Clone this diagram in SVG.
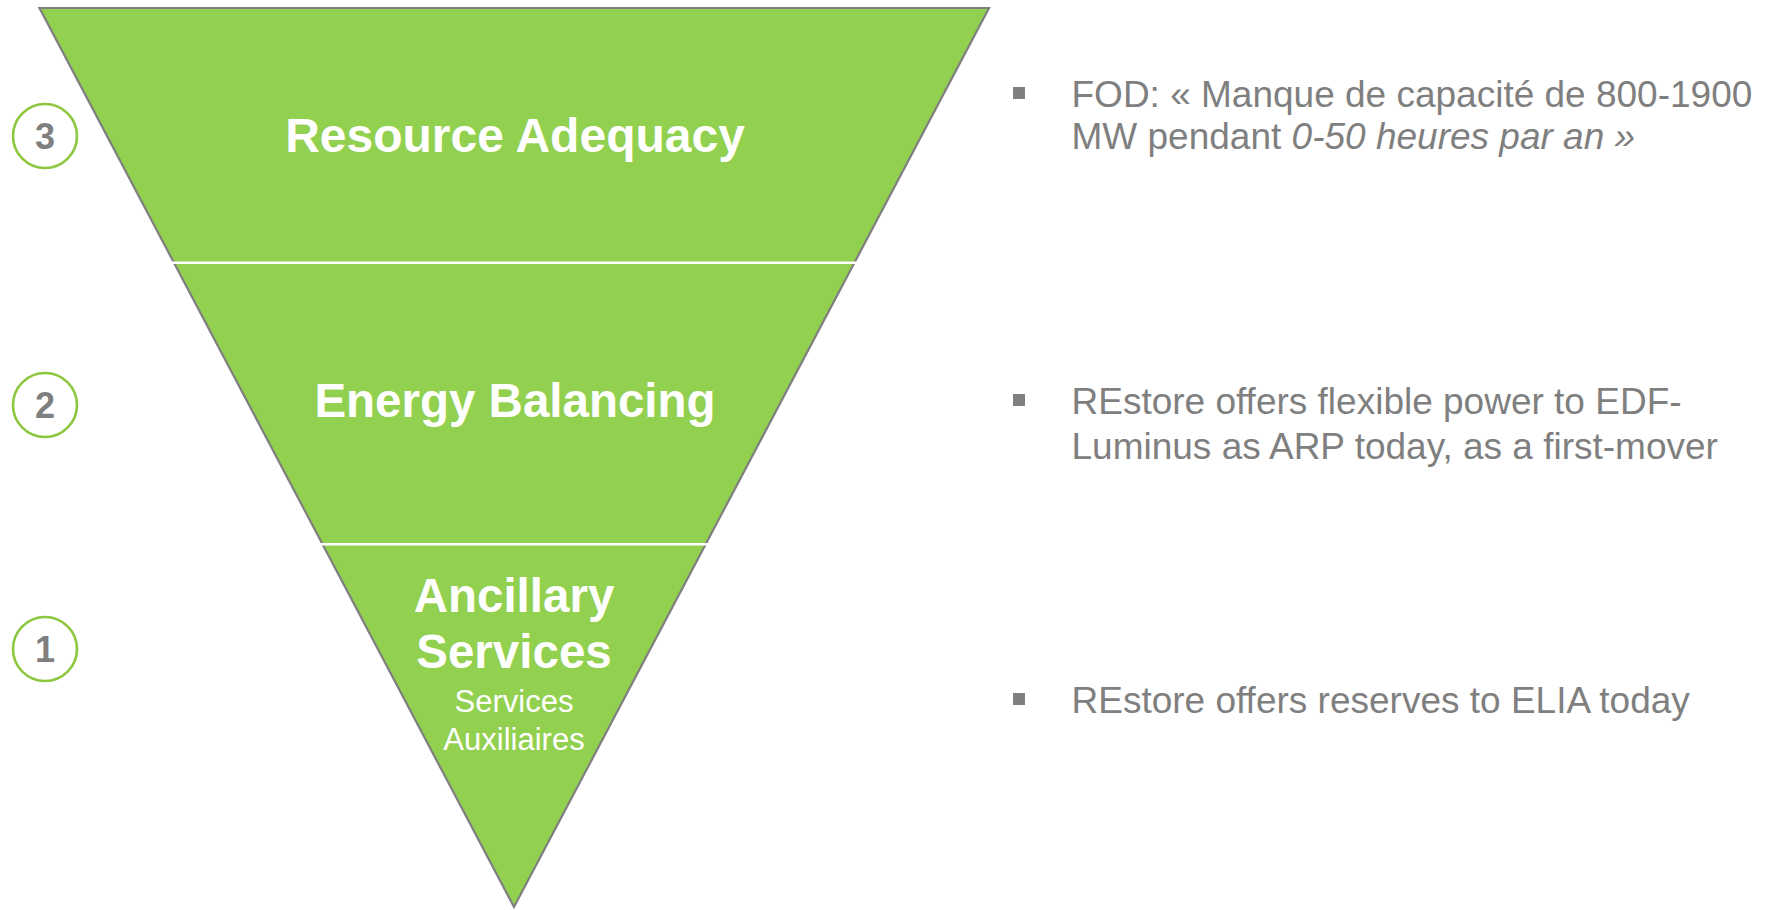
<svg xmlns="http://www.w3.org/2000/svg" width="1769" height="910" viewBox="0 0 1769 910">
<style>
.tri{fill:#92D050;stroke:#7F7F7F;stroke-width:2.2;stroke-linejoin:miter}
.div{stroke:#FFFFFF;stroke-width:2.6}
.big{font-family:"Liberation Sans",Arial,sans-serif;font-weight:bold;fill:#FFFFFF;text-anchor:middle}
.small{font-family:"Liberation Sans",Arial,sans-serif;fill:#FFFFFF;text-anchor:middle;font-size:31px}
.circ{fill:#FFFFFF;stroke:#8DC63F;stroke-width:2.6}
.num{font-family:"Liberation Sans",Arial,sans-serif;font-weight:bold;fill:#7F7F7F;text-anchor:middle;font-size:36px}
.desc{font-family:"Liberation Sans",Arial,sans-serif;fill:#7F7F7F;font-size:37px}
.bul{fill:#7F7F7F}
</style>
<rect width="1769" height="910" fill="#FFFFFF"/>
<g id="pyramid">
<polygon class="tri" points="39.5,8 989,8 514,907"/>
</g>
<g id="connectors">
<line class="div" x1="170" y1="262.7" x2="860" y2="262.7"/>
<line class="div" x1="320" y1="544.3" x2="708" y2="544.3"/>
</g>
<g id="tier3">
<text class="big" x="515" y="151.7" font-size="48">Resource Adequacy</text>
</g>
<g id="tier2">
<text class="big" x="515" y="416.7" font-size="47.5">Energy Balancing</text>
</g>
<g id="tier1">
<text class="big" x="514" y="612.3" font-size="47.5">Ancillary</text>
<text class="big" x="514" y="668.3" font-size="47.5">Services</text>
<text class="small" x="514" y="711.7">Services</text>
<text class="small" x="514" y="750">Auxiliaires</text>
</g>
<g id="badge3">
<circle class="circ" cx="45" cy="136" r="32"/>
<text class="num" x="45" y="149">3</text>
</g>
<g id="badge2">
<circle class="circ" cx="45" cy="405" r="32"/>
<text class="num" x="45" y="418">2</text>
</g>
<g id="badge1">
<circle class="circ" cx="45" cy="649" r="32"/>
<text class="num" x="45" y="662">1</text>
</g>
<g id="note3">
<rect class="bul" x="1013" y="87" width="12" height="12"/>
<text class="desc" x="1071.5" y="107">FOD: « Manque de capacité de 800-1900</text>
<text class="desc" x="1071.5" y="149">MW pendant <tspan font-style="italic">0-50 heures par an »</tspan></text>
</g>
<g id="note2">
<rect class="bul" x="1013" y="394" width="12" height="12"/>
<text class="desc" x="1071.5" y="413.5">REstore offers flexible power to EDF-</text>
<text class="desc" x="1071.5" y="458.5">Luminus as ARP today, as a first-mover</text>
</g>
<g id="note1">
<rect class="bul" x="1013" y="693" width="12" height="12"/>
<text class="desc" x="1071.5" y="712.5">REstore offers reserves to ELIA today</text>
</g>
</svg>
